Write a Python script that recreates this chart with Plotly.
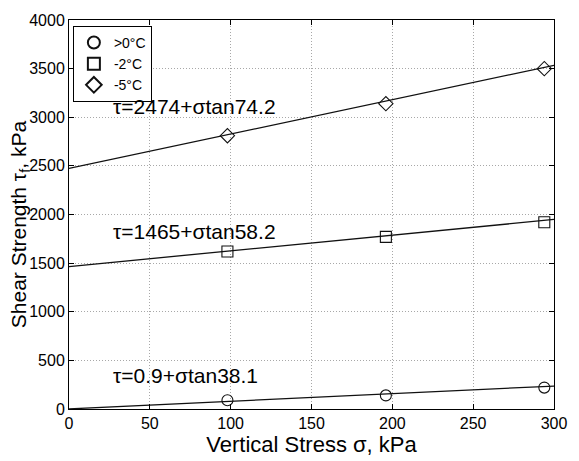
import math
import plotly.graph_objects as go

# Data
sigma = [98, 196, 294]
tau_pos0 = [90, 140, 220]
tau_m2 = [1620, 1770, 1920]
tau_m5 = [2810, 3140, 3500]

series_names = [">0°C", "-2°C", "-5°C"]
series_symbols = ["circle-open", "square-open", "diamond-open"]
series_values = [tau_pos0, tau_m2, tau_m5]

# Fit lines tau = c + sigma*tan(phi), from the equations on the chart
fit_c = [0.9, 1465, 2474]
fit_phi = [38.1, 58.2, 74.2]
fit_labels = ["τ=0.9+σtan38.1", "τ=1465+σtan58.2", "τ=2474+σtan74.2"]
label_y = [340, 1830, 3110]
label_x = [26, 26, 26]
fit_sigma = [0, 300]

x_ticks = [0, 50, 100, 150, 200, 250, 300]
y_ticks = [0, 500, 1000, 1500, 2000, 2500, 3000, 3500, 4000]

FONT = "Liberation Sans, Arial, sans-serif"

fig = go.Figure()

for c, phi in zip(fit_c, fit_phi):
    t = math.tan(math.radians(phi))
    fig.add_trace(go.Scatter(
        x=fit_sigma, y=[c + s * t for s in fit_sigma],
        mode="lines", line=dict(color="#111111", width=1.3),
        showlegend=False, hoverinfo="skip"))

for name, sym, vals in zip(series_names, series_symbols, series_values):
    fig.add_trace(go.Scatter(
        x=sigma, y=vals, mode="markers", name=name,
        marker=dict(symbol=sym, size=11, color="#111111",
                    line=dict(width=1.1, color="#111111")),
        cliponaxis=False))

for lx, ly, txt in zip(label_x, label_y, fit_labels):
    fig.add_annotation(x=lx, y=ly, text=txt, showarrow=False,
                       xanchor="left", yanchor="middle",
                       font=dict(family=FONT, size=21, color="#000000"))

# y-axis title placed as a rotated annotation
fig.add_annotation(xref="paper", yref="paper", x=-0.101, y=0.475,
                   text="Shear Strength τ<sub>f</sub>, kPa", textangle=-90,
                   showarrow=False, xanchor="center", yanchor="middle",
                   font=dict(family=FONT, size=21, color="#000000"))

axis_common = dict(
    showline=True, linecolor="#000000", linewidth=1, mirror="ticks",
    ticks="inside", ticklen=5, tickcolor="#000000",
    showgrid=True, gridcolor="#a8a8a8", griddash="1px,2px", gridwidth=1,
    zeroline=False,
    tickfont=dict(family=FONT, size=16, color="#000000"),
)

fig.update_xaxes(range=[0, 300], tickvals=x_ticks,
                 title=dict(text="Vertical Stress σ, kPa", standoff=1,
                            font=dict(family=FONT, size=22, color="#000000")),
                 **axis_common)
fig.update_yaxes(range=[0, 4000], tickvals=y_ticks, **axis_common)

fig.update_layout(
    width=579, height=461,
    margin=dict(l=69, r=16, t=14, b=47, pad=0),
    paper_bgcolor="white", plot_bgcolor="white",
    font=dict(family=FONT, color="#000000"),
    legend=dict(x=0.008, y=0.985, xanchor="left", yanchor="top",
                bgcolor="white", bordercolor="#000000", borderwidth=1,
                font=dict(family=FONT, size=14, color="#000000"),
                tracegroupgap=0, itemsizing="constant"),
    showlegend=True,
)

fig.write_html("out.html")
